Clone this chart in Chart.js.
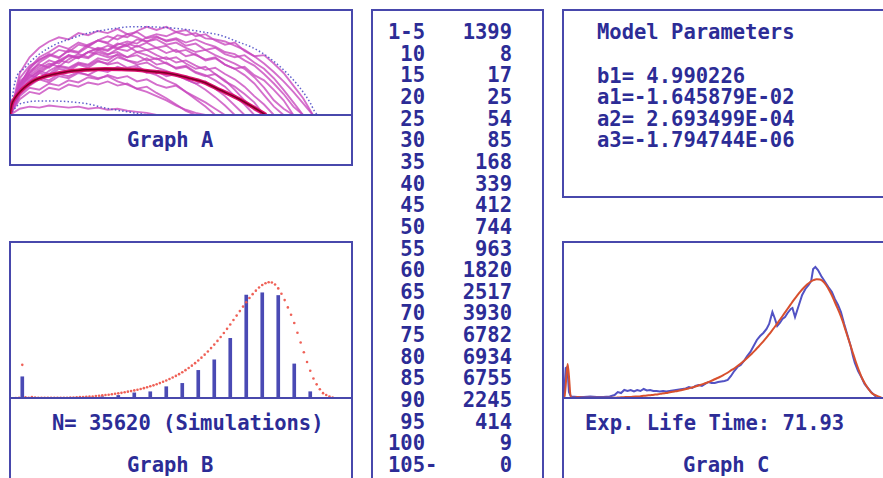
<!DOCTYPE html>
<html><head><meta charset="utf-8">
<script src="https://cdn.jsdelivr.net/npm/chart.js@4/dist/chart.umd.min.js"></script>
<style>
html,body{margin:0;padding:0;background:#fff;}
body{width:883px;height:478px;overflow:hidden;position:relative;font-family:"DejaVu Sans Mono",monospace;font-weight:bold;font-size:20.5px;color:#2c2c96;}
.box{position:absolute;box-sizing:border-box;border:2px solid #4848ac;}
.txt{position:absolute;line-height:20px;white-space:pre;}
canvas{position:absolute;}
</style></head><body>
<div class="box" style="left:9px;top:9px;width:344px;height:157px"></div>
<div class="box" style="left:371px;top:9px;width:173px;height:480px"></div>
<div class="box" style="left:562px;top:9px;width:330px;height:189px"></div>
<div class="box" style="left:9px;top:241px;width:344px;height:260px"></div>
<div class="box" style="left:562px;top:241px;width:330px;height:260px"></div>

<canvas id="cA" width="342" height="110" style="left:10px;top:10px"></canvas>
<canvas id="cB" width="342" height="160" style="left:10px;top:243px"></canvas>
<canvas id="cC" width="319" height="160" style="left:564px;top:243px"></canvas>

<div class="txt" style="left:127px;top:130px">Graph A</div>
<div class="txt" id="nText" style="left:52px;top:413px"></div>
<div class="txt" style="left:127px;top:455px">Graph B</div>
<div class="txt" id="lifeText" style="left:585px;top:413px"></div>
<div class="txt" style="left:683px;top:455px">Graph C</div>
<div class="txt" style="left:597px;top:22px">Model Parameters</div>
<div id="params"></div>
<div id="table"></div>

<script>
// ---- Age-at-death frequency table (simulated lifetimes) ----
const binLabels = ["1-5","10","15","20","25","30","35","40","45","50","55","60","65","70","75","80","85","90","95","100","105-"];
const binAges   = [5,10,15,20,25,30,35,40,45,50,55,60,65,70,75,80,85,90,95,100,105];
const binCounts = [1399,8,17,25,54,85,168,339,412,744,963,1820,2517,3930,6782,6934,6755,2245,414,9,0];

// ---- Fitted model ----
const paramNames  = ["b1","a1","a2","a3"];
const paramValues = [4.990226, -1.645879E-02, 2.693499E-04, -1.794744E-06];
const expLifeTime = 71.93;

// Model death curve, expected deaths per 5-year bin, one value per year of age (0..102)
const modelCounts = [0,0,0,0,20,2183,40,20,64,32,19,16,14,13,12,12,13,14,16,19,24,30,51,64,64,77,90,103,128,148,
  173,193,218,244,276,308,340,379,417,456,501,546,597,648,706,770,835,905,982,1066,1156,1252,1348,1457,1573,1701,1836,1977,2131,2298,
  2472,2658,2857,3069,3287,3518,3762,4019,4282,4558,4841,5136,5431,5727,6022,6311,6587,6844,7075,7280,7447,7563,7627,7608,7479,7223,6869,6452,5971,5489,
  4943,4301,3659,3017,2375,1798,1284,899,578,321,193,96,32];

// Empirical (smoothed) death curve from the simulations
const empAges = [3.9,4.4,4.9,5.4,6,8,10,12,14,16,18,19.5,20.5,21.5,22.5,23.5,24.5,25.5,26.5,27.5,28.5,29.5,30.5,31.5,32.5,33.5,34.5,35.5,36.5,37.5,
  38.5,39.5,40.5,41.5,42.5,43.5,44.5,45.5,46.5,47.5,48.5,49.5,50.5,51.5,52.5,53.5,54.5,55.5,56.5,57.5,58.5,59.5,60.5,61.5,62.5,63.5,64.5,65.5,66.5,67.3,
  68.3,69,69.8,70.6,71.4,72.2,73,74,74.5,75.3,76.2,77.5,78.5,79.5,80.3,80.9,81.6,82.4,83.4,84.6,85.6,86.7,87.6,88.6,89.5,90.5,91.5,92.5,93.2,93.8,
  94.8,95.8,96.8,97.8,98.8,99.8,100.4];
const empCounts = [128,1926,1990,385,96,64,64,96,64,64,96,193,385,321,514,449,514,417,514,449,578,482,514,449,449,417,449,417,449,482,
  514,546,578,610,706,642,770,835,770,899,1027,963,963,1027,1059,1091,1156,1412,1733,1990,2119,2375,2696,2953,3338,3724,3980,4173,4430,4751,
  5521,5136,4622,4815,5072,5200,5457,5714,5778,5200,5778,6613,6998,7255,7511,8282,8410,8218,7832,7447,7126,6805,6356,5971,5521,4751,4045,3338,2696,2247,
  1733,1348,899,642,385,193,64];

// ---- Graph A: simulated vitality trajectories (one value every 3 years of age) ----
const walkAges = [0,3,6,9,12,15,18,21,24,27,30,33,36,39,42,45,48,51,54,57,60,63,66,69,72,75,78,81,84,87,90,93,96,99,102,105];
const walk01 = [0,28,44,53,57,54,62,60,67,71,69,76,74,80,84,81,84,79,81,75,77,71,67,69,61,56,57,49,40,28,16,0];
const walk02 = [0,40,55,64,70,74,72,78,76,80,78,82,77,79,73,75,70,72,66,68,62,64,58,55,57,50,44,35,24,12,0];
const walk03 = [0,30,42,48,45,52,50,56,54,60,57,63,61,66,62,64,59,62,56,58,52,54,48,44,46,38,33,24,14,0];
const walk04 = [0,25,38,44,49,46,53,58,55,62,66,63,68,65,69,64,66,60,62,57,53,55,48,44,38,30,19,8,0];
const walk05 = [0,22,33,40,37,44,42,48,45,51,49,55,52,50,54,48,50,44,46,40,37,39,32,27,20,12,0];
const walk06 = [0,35,47,52,58,55,61,59,65,62,58,60,55,57,52,54,49,45,47,41,38,33,27,18,10,0];
const walk07 = [0,20,28,34,31,37,35,40,38,43,41,46,43,45,40,42,37,39,34,30,32,25,18,9,0];
const walk08 = [0,32,40,46,52,49,57,54,60,58,55,57,52,48,50,45,42,38,34,30,24,17,9,0];
const walk09 = [0,18,26,24,30,28,33,31,36,34,38,35,37,32,34,29,26,28,22,17,12,6,0];
const walk10 = [0,28,36,42,39,46,44,49,47,52,48,50,45,47,41,38,33,29,22,15,8,0];
const walk11 = [0,15,22,20,26,24,29,27,31,29,32,28,30,25,22,18,14,9,5,2,0];
const walk12 = [0,6,8,7,9,8,7,8,6,7,5,6,4,3,2,0];
const walk13 = [0,26,40,50,56,62,60,67,65,71,75,72,77,74,70,72,67,69,64,60,62,57,53,49,44,36,26,14,6,0];
const walk14 = [0,30,38,35,42,47,45,50,48,54,52,58,55,60,57,53,55,50,52,47,43,45,39,34,27,18,10,0];
const walk15 = [0,24,35,42,47,52,57,55,60,64,62,68,66,72,70,74,71,73,69,72,68,65,60,58,52,47,39,30,20,8,0];
const walk16 = [0,22,30,36,33,39,37,41,38,35,37,32,29,25,27,21,16,10,4,0];
const walk17 = [0,28,45,55,60,66,63,69,66,71,68,64,66,60,62,57,53,55,49,44,46,39,33,24,14,5,0];
const walk18 = [0,20,32,40,46,51,56,54,60,63,61,67,70,68,74,77,75,79,76,78,73,72,70,66,62,56,49,41,32,22,11,0];
const walks = [walk01,walk02,walk03,walk04,walk05,walk06,walk07,walk08,walk09,walk10,walk11,walk12,walk13,walk14,walk15,walk16,walk17,walk18];

// Mean trajectory and upper / lower envelopes
const meanAges  = [0,0.5,1.5,3.6,5.5,7.7,10.5,13.8,18.9,24,29.2,34,39.3,44.5,49.7,54.5,59.3,64.5,69.7,74.6,78.6];
const meanVals  = [0,9.5,16,23.8,29,33.3,36.5,39,41.9,43.2,43.8,43.6,42.9,41.2,39,35.5,31.4,23.8,16.2,7.6,0];
const upperAges = [0,1.5,4.6,8.6,13.8,19,24,29.2,37.5,42.4,49.1,54,59.3,64.5,69.7,74.6,79.8,85,89,92.1,93.6,94.6];
const upperVals = [0,31,45,57,67,73,78,81,84,84,83,81.5,79,76,70,64,54,40,26,12,3,0];
const lowerAges = [0,2.5,5.5,8.6,13.8,19,24,29.2,34.4,38.4,42.4];
const lowerVals = [0,9.5,12.4,13.3,13.3,12.4,10.5,6.7,3.8,1.9,0];

// ---------------------------------------------------------------
const INK = '#4848ac';
Chart.defaults.animation = false;
Chart.defaults.events = [];
Chart.defaults.plugins.legend.display = false;
Chart.defaults.plugins.tooltip.enabled = false;

const baseline = {
  id: 'baseline',
  afterDatasetsDraw(chart) {
    const ctx = chart.ctx, y = chart.scales.y.getPixelForValue(0);
    ctx.save();
    ctx.strokeStyle = INK; ctx.lineWidth = 2;
    ctx.beginPath(); ctx.moveTo(0, y); ctx.lineTo(chart.width, y); ctx.stroke();
    ctx.restore();
  }
};

const xy = (xs, ys) => ys.map((v, i) => ({x: xs[i], y: v}));
const hidden = (min, max) => ({type: 'linear', display: false, min, max, offset: false});
const baseOpts = (xr, yr) => ({
  responsive: false, devicePixelRatio: 1,
  layout: {padding: {left: 0, right: 0, top: 0, bottom: 5}},
  scales: {x: hidden(xr[0], xr[1]), y: hidden(yr[0], yr[1])}
});

// Graph A
const aSets = walks.map(w => ({
  data: xy(walkAges, w), showLine: true, pointRadius: 0, tension: 0,
  borderColor: 'rgba(200,70,190,0.78)', borderWidth: 1.9, order: 3
}));
aSets.push(
  {data: xy(upperAges, upperVals), showLine: true, pointRadius: 0, tension: 0.4, cubicInterpolationMode: 'monotone',
   borderColor: 'rgba(80,80,200,0.9)', borderWidth: 1.5, borderDash: [1.5, 2.2], order: 2},
  {data: xy(lowerAges, lowerVals), showLine: true, pointRadius: 0, tension: 0.4, cubicInterpolationMode: 'monotone',
   borderColor: 'rgba(80,80,200,0.9)', borderWidth: 1.5, borderDash: [1.5, 2.2], order: 2},
  {data: xy(meanAges, meanVals), showLine: true, pointRadius: 0, tension: 0.4, cubicInterpolationMode: 'monotone',
   borderColor: '#dc1070', borderWidth: 4, order: 1},
  {data: xy(meanAges, meanVals), showLine: true, pointRadius: 0, tension: 0.4, cubicInterpolationMode: 'monotone',
   borderColor: '#7a0024', borderWidth: 1.5, order: 0}
);
new Chart(document.getElementById('cA'), {
  type: 'scatter', data: {datasets: aSets},
  options: baseOpts([0, 105], [0, 100]), plugins: [baseline]
});

// Graph B
const modelAges = modelCounts.map((_, i) => i);
new Chart(document.getElementById('cB'), {
  type: 'scatter',
  data: {datasets: [
    {type: 'bar', data: xy(binAges, binCounts), backgroundColor: '#4a4ab4', barThickness: 3, order: 1},
    {data: xy(modelAges, modelCounts), pointRadius: 1.3, pointBorderWidth: 0,
     pointBackgroundColor: 'rgba(238,88,78,0.95)', showLine: false, order: 0}
  ]},
  options: baseOpts([2.41, 106.8], [0, 9950]), plugins: [baseline]
});

// Graph C
new Chart(document.getElementById('cC'), {
  type: 'scatter',
  data: {datasets: [
    {data: xy(empAges, empCounts), showLine: true, pointRadius: 0, tension: 0,
     borderColor: '#5252c4', borderWidth: 2, order: 1},
    {data: xy(modelAges, modelCounts), showLine: true, pointRadius: 0, tension: 0.3, cubicInterpolationMode: 'monotone',
     borderColor: '#d8502e', borderWidth: 2, order: 0}
  ]},
  options: baseOpts([3.87, 102.5], [0, 9950]), plugins: [baseline]
});

// ---- Texts ----
const total = binCounts.reduce((s, v) => s + v, 0);
document.getElementById('nText').textContent = 'N= ' + total + ' (Simulations)';
document.getElementById('lifeText').textContent = 'Exp. Life Time: ' + expLifeTime.toFixed(2);

function fmtParam(v) {
  const sign = v < 0 ? '-' : ' ';
  const a = Math.abs(v);
  if (a >= 1 && a < 10) return sign + a.toFixed(6);
  const [m, e] = a.toExponential(6).split('e');
  const ev = parseInt(e, 10);
  return sign + m + 'E' + (ev < 0 ? '-' : '+') + String(Math.abs(ev)).padStart(2, '0');
}
const paramTops = [66, 87, 109, 130];
const pBox = document.getElementById('params');
paramNames.forEach((n, i) => {
  const d = document.createElement('div');
  d.className = 'txt';
  d.style.left = '597px'; d.style.top = paramTops[i] + 'px';
  d.textContent = n + '=' + fmtParam(paramValues[i]);
  pBox.appendChild(d);
});

const tBox = document.getElementById('table');
binLabels.forEach((lab, i) => {
  const top = Math.round(22 + i * 21.65);
  const l = document.createElement('div');
  l.className = 'txt'; l.style.left = '388px'; l.style.top = top + 'px';
  l.textContent = lab.padStart(3, ' ');
  const r = document.createElement('div');
  r.className = 'txt'; r.style.left = '440px'; r.style.width = '72px'; r.style.textAlign = 'right'; r.style.top = top + 'px';
  r.textContent = String(binCounts[i]);
  tBox.appendChild(l); tBox.appendChild(r);
});
</script>
</body></html>
